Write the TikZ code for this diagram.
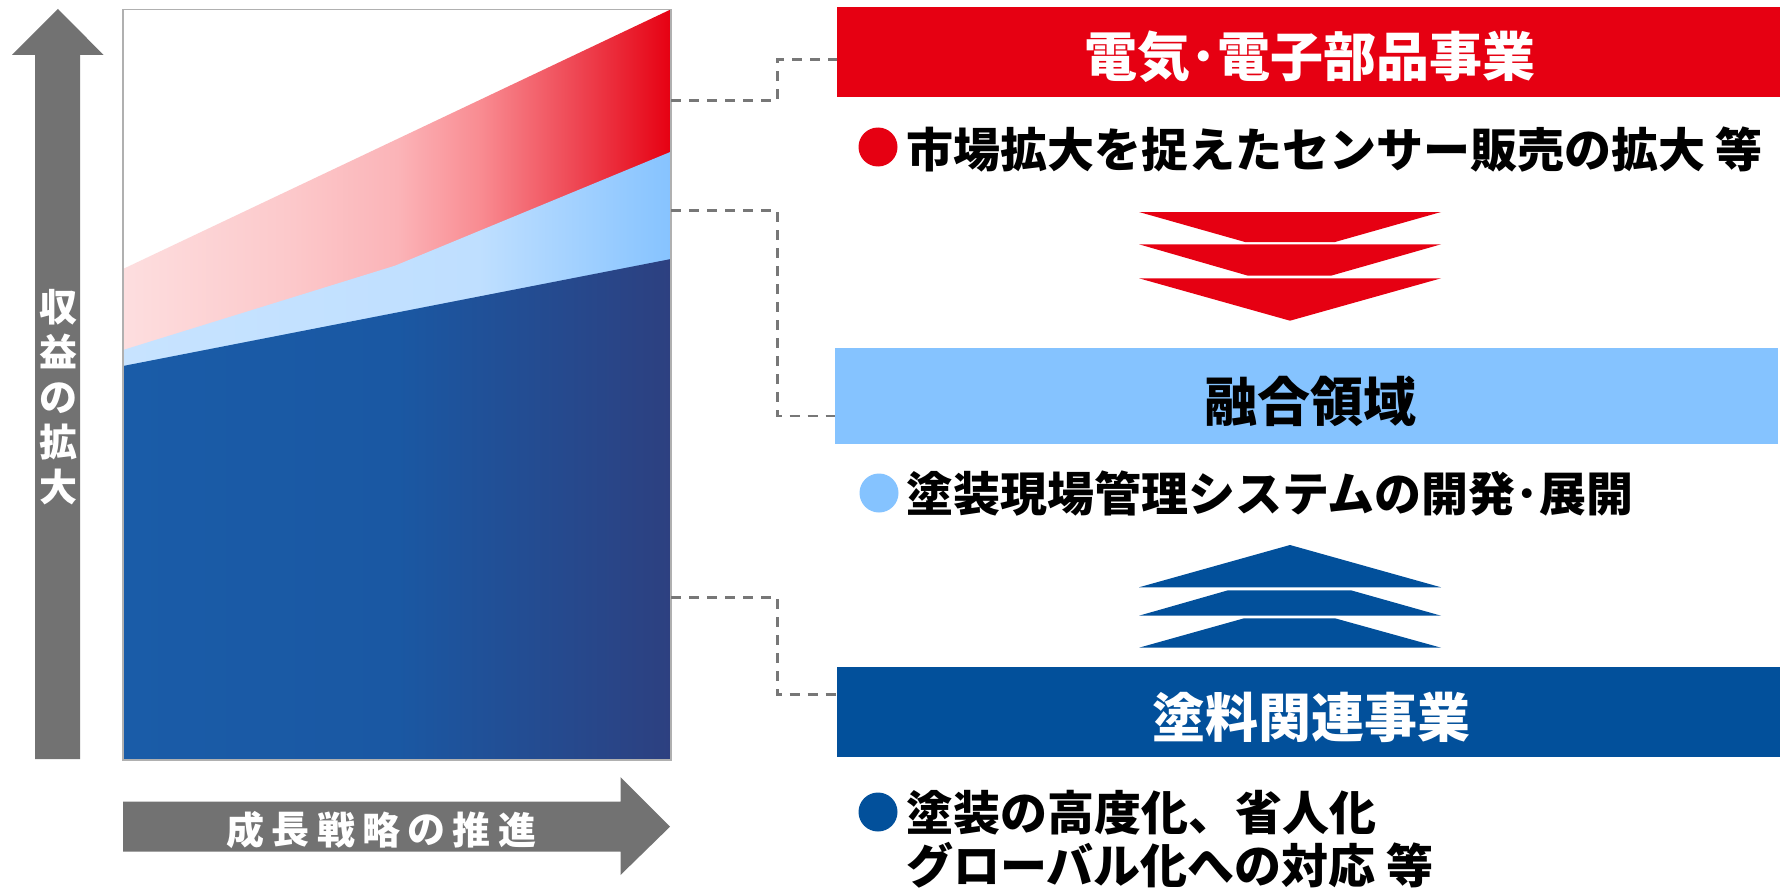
\documentclass[tikz,border=0pt]{standalone}
\usepackage{fontspec}
\setmainfont{Noto Sans CJK JP}
\definecolor{jred}{HTML}{E60012}
\definecolor{jlblue}{HTML}{85C3FF}
\definecolor{jdblue}{HTML}{02509B}
\definecolor{agray}{HTML}{727272}
\definecolor{dgray}{HTML}{777777}
\definecolor{bgray}{HTML}{B0B0B0}
\definecolor{pk0}{HTML}{FDDEDF}
\definecolor{pk1}{HTML}{FCC9CB}
\definecolor{pk2}{HTML}{FBB4B8}
\definecolor{pk3}{HTML}{F98C92}
\definecolor{pk4}{HTML}{EE4552}
\definecolor{lb0}{HTML}{C7E3FF}
\definecolor{lb1}{HTML}{BFDFFF}
\definecolor{lb2}{HTML}{86C3FF}
\definecolor{db0}{HTML}{1A5CA8}
\definecolor{db1}{HTML}{1A58A3}
\definecolor{db2}{HTML}{2D4080}
\pgfdeclarehorizontalshading{pinkgrad}{100bp}{color(0bp)=(pk0); color(25bp)=(pk0); color(40bp)=(pk1); color(50bp)=(pk2); color(57.5bp)=(pk3); color(66.5bp)=(pk4); color(75bp)=(jred); color(100bp)=(jred)}
\pgfdeclarehorizontalshading{lbluegrad}{100bp}{color(0bp)=(lb0); color(25bp)=(lb0); color(57.5bp)=(lb1); color(75bp)=(lb2); color(100bp)=(lb2)}
\pgfdeclarehorizontalshading{dbluegrad}{100bp}{color(0bp)=(db0); color(25bp)=(db0); color(50bp)=(db1); color(75bp)=(db2); color(100bp)=(db2)}
\begin{document}
\begin{tikzpicture}[x=1pt,y=-1pt,
  hdrbox/.style={draw=none,minimum width=943pt,minimum height=90pt,inner sep=0pt,anchor=west},
  hdrtext/.style={inner sep=0pt,font=\fontsize{53}{60}\selectfont\bfseries},
  bultext/.style={inner sep=0pt,anchor=west,font=\fontsize{47}{53}\selectfont\bfseries},
  bulletdot/.style={circle,draw=none,minimum size=39pt,inner sep=0pt},
  conn/.style={draw=dgray,line width=2.7pt,dash pattern=on 10pt off 8pt},
  chev/.style={draw=none},
  axisarrow/.style={fill=agray,draw=none},
  axtext/.style={inner sep=0pt,text=white,font=\fontsize{38}{45}\selectfont\bfseries}]
\useasboundingbox (0,0) rectangle (1780,888);
\fill[white] (0,0) rectangle (1780,888);

% chart areas
\shade[shading=pinkgrad] (123,269) -- (671,9.3) -- (671,760) -- (123,760) -- cycle;
\shade[shading=lbluegrad] (123,350) -- (395,265.7) -- (671,151.7) -- (671,760) -- (123,760) -- cycle;
\shade[shading=dbluegrad] (123,366) -- (671,259) -- (671,760) -- (123,760) -- cycle;
\draw[bgray,line width=1.3pt] (123,9.3) rectangle (671,760);

% vertical axis arrow
\fill[axisarrow] (35,759) -- (35,55) -- (12,55) -- (58,9) -- (103.6,55) -- (80,55) -- (80,759) -- cycle;
\node[axtext,align=center] (vtext) at (58,397) {収\\益\\の\\拡\\大};

% horizontal axis arrow
\fill[axisarrow] (123,801.7) -- (620.5,801.7) -- (620.5,777) -- (670,826.7) -- (620.5,875) -- (620.5,851.7) -- (123,851.7) -- cycle;
\foreach \ch [count=\i from 0] in {成,長,戦,略,の,推,進}
  \node[axtext] (h\i) at (245.5+45.25*\i,830) {\ch};

% header boxes
\node[hdrbox,fill=jred] (elec) at (837,52) {};
\node[hdrbox,fill=jlblue,minimum height=96pt] (fusion) at (835,396) {};
\node[hdrbox,fill=jdblue] (paint) at (837,712.3) {};
\node[hdrtext,text=white] (elect) at (1310,57) {電気･電子部品事業};
\node[hdrtext,text=black] (fusiont) at (1310,401.5) {融合領域};
\node[hdrtext,text=white] (paintt) at (1311,717) {塗料関連事業};

% bullets
\node[bulletdot,fill=jred] (b1) at (878,147) {};
\node[bultext] (t1) at (906,149.5) {市場拡大を捉えたセンサー販売の拡大 等};
\node[bulletdot,fill=jlblue] (b2) at (879,493) {};
\node[bultext] (t2) at (906,494) {塗装現場管理システムの開発･展開};
\node[bulletdot,fill=jdblue] (b3) at (878,812) {};
\node[bultext] (t3) at (906,812.5) {塗装の高度化、省人化};
\node[bultext] (t4) at (906,865) {グローバル化への対応 等};

% red chevrons (down)
\fill[chev,jred] (1139,212) -- (1441,212) -- (1335,242) -- (1245,242) -- cycle;
\fill[chev,jred] (1139,244.3) -- (1441,244.3) -- (1331,275.7) -- (1248,275.7) -- cycle;
\fill[chev,jred] (1139,278.3) -- (1441,278.3) -- (1290,320.7) -- cycle;

% blue chevrons (up)
\fill[chev,jdblue] (1290,545) -- (1441,587.3) -- (1139,587.3) -- cycle;
\fill[chev,jdblue] (1228,590.3) -- (1351,590.3) -- (1441,615.7) -- (1139,615.7) -- cycle;
\fill[chev,jdblue] (1244,618.3) -- (1335,618.3) -- (1441,647.7) -- (1139,647.7) -- cycle;

% connectors
\coordinate (e1) at (671,100.3);
\coordinate (e2) at (671,210.7);
\coordinate (e3) at (671,597.3);
\coordinate (k1) at (837,59.3);
\coordinate (k2) at (835,416);
\coordinate (k3) at (837,694.7);
\draw[conn] (e1) -- ++(106.3,0) |- (k1);
\draw[conn] (e2) -- ++(106.3,0) |- (k2);
\draw[conn] (e3) -- ++(106.3,0) |- (k3);
\end{tikzpicture}
\end{document}
